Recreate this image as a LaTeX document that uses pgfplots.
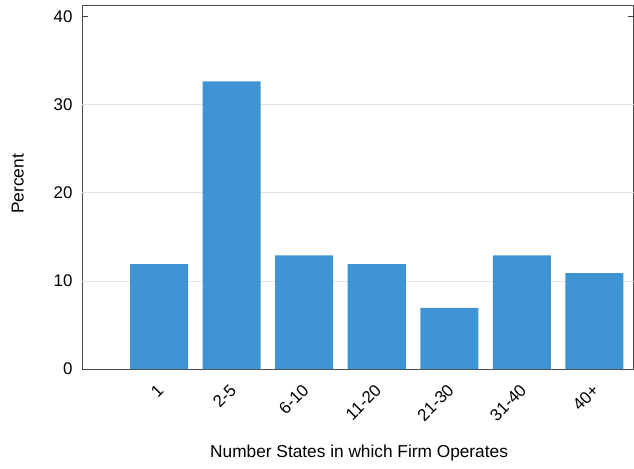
\documentclass[border=0pt]{standalone}
\usepackage{pgfplots}
\pgfplotsset{compat=1.18}
\usepackage{fontspec}
\setmainfont{Liberation Sans}
\definecolor{barblue}{HTML}{3F95D3}
\definecolor{gridgray}{HTML}{E3E3E3}
\begin{document}
\fontsize{17.4}{20}\selectfont
\begin{tikzpicture}
\begin{axis}[
  scale only axis,
  width=555pt, height=366pt,
  xmin=-1.057, xmax=6.54,
  ymin=0, ymax=41.24,
  ytick={0,10,20,30,40},
  xtick={0,1,2,3,4,5,6},
  xticklabels={1,2-5,6-10,11-20,21-30,31-40,40+},
  x tick style={draw=none},
  y tick style={black!75, line width=0.8pt},
  tick align=inside,
  major tick length=6pt,
  axis line style={black!70, line width=0.9pt},
  extra y ticks={10,20,30},
  extra y tick labels={},
  extra y tick style={ymajorgrids=true, major tick length=0pt},
  grid style={gridgray, line width=0.9pt},
  /pgf/number format/assume math mode=true,
  ticklabel style={font=\fontsize{17}{20}\selectfont},
  yticklabel style={xshift=-4pt},
  xticklabel style={rotate=45, anchor=north east, xshift=-6pt, yshift=-2pt},
  ylabel={Percent},
  xlabel={Number States in which Firm Operates},
  ylabel style={at={(axis description cs:-0.1171,0.51)}, anchor=center, rotate=0, font=\fontsize{17.4}{20}\selectfont},
  xlabel style={at={(axis description cs:0.502,-0.232)}, anchor=center, font=\fontsize{17.4}{20}\selectfont},
  clip=false,
  axis on top=false,
]
\addplot[ybar, bar width=0.8, fill=barblue, draw=none] coordinates {
  (0,11.9) (1,32.65) (2,12.9) (3,11.9) (4,6.95) (5,12.9) (6,10.9)
};
\path (axis description cs:-0.14955,-0.274) rectangle (axis description cs:0.99279,1.0156);
\end{axis}
\end{tikzpicture}
\end{document}
